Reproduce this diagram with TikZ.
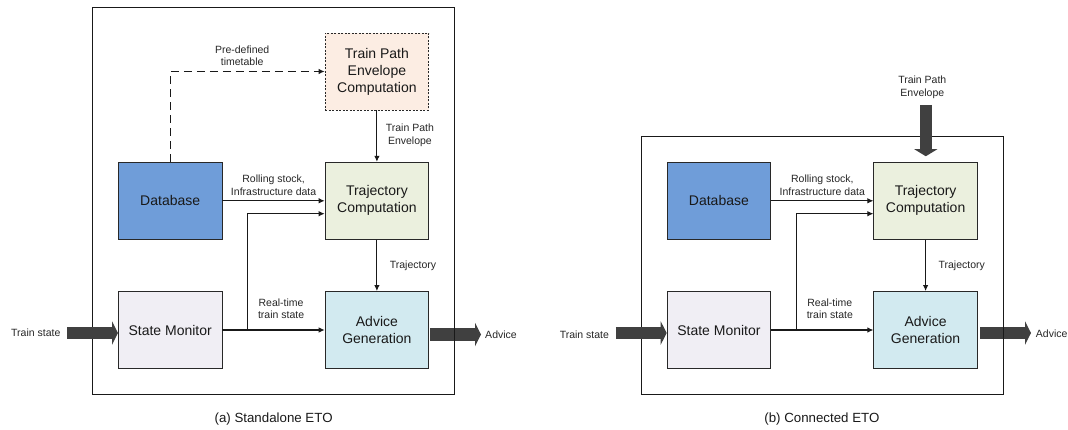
\documentclass[tikz,border=0pt]{standalone}
\usepackage{fontspec}
\setmainfont{Liberation Sans}
\usetikzlibrary{arrows.meta,calc}
\definecolor{dbblue}{RGB}{111,157,217}
\definecolor{tcgreen}{RGB}{235,240,222}
\definecolor{smgray}{RGB}{240,238,244}
\definecolor{agblue}{RGB}{210,234,240}
\definecolor{tpepeach}{RGB}{252,237,227}
\definecolor{bagray}{RGB}{64,64,64}
\definecolor{edgegray}{RGB}{40,40,40}
\tikzset{
  box/.style={draw=edgegray, line width=0.9pt, minimum width=103.5pt, minimum height=77pt,
    inner sep=0pt, align=center, font=\fontsize{14}{17}\selectfont, text=black!90},
  lbl/.style={inner sep=0pt, align=center, font=\fontsize{10.5}{12.7}\selectfont, text=black!85},
  captxt/.style={inner sep=0pt, font=\fontsize{13.3}{16}\selectfont, text=black!90},
  framebox/.style={draw=black!90, line width=1.1pt},
  conn/.style={draw=black!90, line width=1.05pt, -{Latex[length=6pt,width=5.5pt]}},
  dconn/.style={conn, dash pattern=on 8pt off 5pt, line width=1.3pt},
  barrow/.style={draw=bagray, line width=12.6pt, -{Triangle[length=6pt,width=23.5pt,line width=0pt]}},
}
\begin{document}
\begin{tikzpicture}[x=1pt,y=-1pt]
\useasboundingbox (0,0) rectangle (1068,430);

% ---------- (a) Standalone ETO ----------
\node[box, fill=tpepeach, draw=edgegray, dash pattern=on 2pt off 1.5pt] (tpe) at (376.9,71.5) {Train Path\\Envelope\\Computation};
\node[box, fill=dbblue] (db) at (170.2,200.8) {Database};
\node[box, fill=tcgreen] (tc) at (376.9,200.8) {Trajectory\\Computation};
\node[box, fill=smgray] (sm) at (170.2,330) {State Monitor};
\node[box, fill=agblue] (ag) at (376.9,330) {Advice\\Generation};

\coordinate (advA) at (481,334.5);
\draw[barrow] ([xshift=1pt,yshift=-4.5pt]ag.east) -- (advA);
\node[framebox, inner sep=0pt, minimum width=361.8pt, minimum height=387pt] (frA) at (273.6,200.8) {};
\coordinate (tsA) at (67.1,333);
\draw[barrow] (tsA) -- ([yshift=-3pt]sm.west);

\draw[dconn] (db.north) |- (tpe.west);
\draw[conn] (tpe.south) -- (tc.north);
\draw[conn] (db.east) -- (tc.west);
\draw[conn] (sm.east) -- (ag.west);
\coordinate (brA) at (247.7,330);
\draw[conn] (brA) |- ($(tc.west)+(0,12.9)$);
\draw[conn] (tc.south) -- (ag.north);

\node[lbl] (pdA) at (242.2,55.7) {Pre-defined\\timetable};
\node[lbl] (tpelA) at (409.9,135.5) {Train Path\\Envelope};
\node[lbl] (rsA) at (273.6,185.3) {Rolling stock,\\Infrastructure data};
\node[lbl] (rtA) at (281.1,308.7) {Real-time\\train state};
\node[lbl] (trA) at (413,265.3) {Trajectory};
\node[lbl] (tslA) at (35.8,332.3) {Train state};
\node[lbl] (advlA) at (501,335) {Advice};
\node[captxt] (capA) at (273.6,419.3) {(a) Standalone ETO};

% ---------- (b) Connected ETO ----------
\node[box, fill=dbblue] (db2) at (718.9,200.8) {Database};
\node[box, fill=tcgreen] (tc2) at (925.6,200.8) {Trajectory\\Computation};
\node[box, fill=smgray] (sm2) at (718.9,330) {State Monitor};
\node[box, fill=agblue] (ag2) at (925.6,330) {Advice\\Generation};

\coordinate (advB) at (1031,333);
\draw[barrow] ([xshift=2.5pt,yshift=-3pt]ag2.east) -- (advB);
\node[framebox, inner sep=0pt, minimum width=361.8pt, minimum height=258pt] (frB) at (822.2,265.3) {};
\coordinate (tsB) at (615.8,333);
\draw[barrow] (tsB) -- ([yshift=-3pt]sm2.west);
\coordinate (tpeB) at (925.8,105);
\draw[barrow, -{Triangle[length=7pt,width=23pt,line width=0pt]}] (tpeB) -- ([xshift=0.2pt,yshift=5.6pt]tc2.north);

\draw[conn] (db2.east) -- (tc2.west);
\draw[conn] (sm2.east) -- (ag2.west);
\coordinate (brB) at (796.4,330);
\draw[conn] (brB) |- ($(tc2.west)+(0,12.9)$);
\draw[conn] (tc2.south) -- (ag2.north);

\node[lbl] (tpelB) at (922.3,87) {Train Path\\Envelope};
\node[lbl] (rsB) at (822.3,185.3) {Rolling stock,\\Infrastructure data};
\node[lbl] (rtB) at (829.8,308.7) {Real-time\\train state};
\node[lbl] (trB) at (961.7,265.3) {Trajectory};
\node[lbl] (tslB) at (584.4,334.3) {Train state};
\node[lbl] (advlB) at (1051.7,333.3) {Advice};
\node[captxt] (capB) at (821.9,419.3) {(b) Connected ETO};
\end{tikzpicture}
\end{document}
